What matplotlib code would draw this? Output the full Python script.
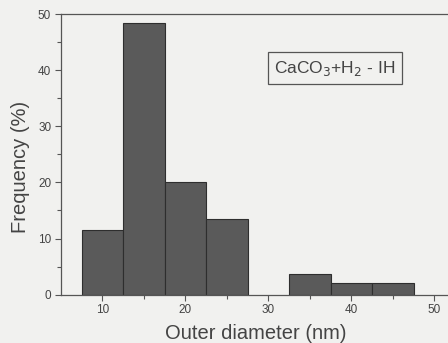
# Outer diameter histogram (CaCO3 + H2 - IH)

import numpy as np
import matplotlib.pyplot as plt

# ==============================
# DATA
# ==============================
bin_left = [7.5, 12.5, 17.5, 22.5, 32.5, 37.5, 42.5]
bin_width = 5
frequency = [11.6, 48.4, 20.1, 13.4, 3.6, 2.0, 2.0]

x_major = [10, 20, 30, 40, 50]
x_minor = [15, 25, 35, 45]
y_major = [0, 10, 20, 30, 40, 50]
y_minor = [5, 15, 25, 35, 45]

# ==============================
# PLOT
# ==============================
plt.rcParams['font.family'] = ['Liberation Sans', 'DejaVu Sans']
txt = '#444444'
bg = '#f1f1ef'

fig = plt.figure(figsize=(4.48, 3.43), dpi=100, facecolor=bg)
# axes runs past the right edge of the scan on purpose
ax = fig.add_axes([0.136, 0.141, 0.926, 0.818], facecolor=bg)

ax.bar(bin_left, frequency, width=bin_width, align='edge',
       color='#5a5a5a', edgecolor='#2e2e2e', linewidth=0.8)

ax.set_xlim(5, 55)
ax.set_ylim(0, 50)
ax.set_xticks(x_major)
ax.set_xticks(x_minor, minor=True)
ax.set_yticks(y_major)
ax.set_yticks(y_minor, minor=True)

ax.tick_params(axis='both', which='major', direction='out', length=4,
               width=0.8, colors='#555555', labelcolor=txt, labelsize=8.5,
               pad=3)
ax.tick_params(axis='both', which='minor', direction='out', length=3,
               width=0.8, colors='#555555')

for s in ax.spines.values():
    s.set_color('#555555')
    s.set_linewidth(0.9)

ax.set_xlabel('Outer diameter (nm)', fontsize=14.5, color=txt)
ax.set_ylabel('Frequency (%)', fontsize=14.5, color=txt)
ax.xaxis.set_label_coords(0.47, -0.105)
ax.yaxis.set_label_coords(-0.075, 0.455)

# legend box, placed in pixels (origin bottom-left)
ax.text(335, 275, r'CaCO$_3$+H$_2$ - IH', transform=None, fontsize=12.5,
        color=txt, ha='center', va='center',
        bbox=dict(boxstyle='square,pad=0.35', facecolor=bg,
                  edgecolor='#555555', linewidth=0.9))

fig.savefig('out.png', dpi=100, facecolor=bg)
